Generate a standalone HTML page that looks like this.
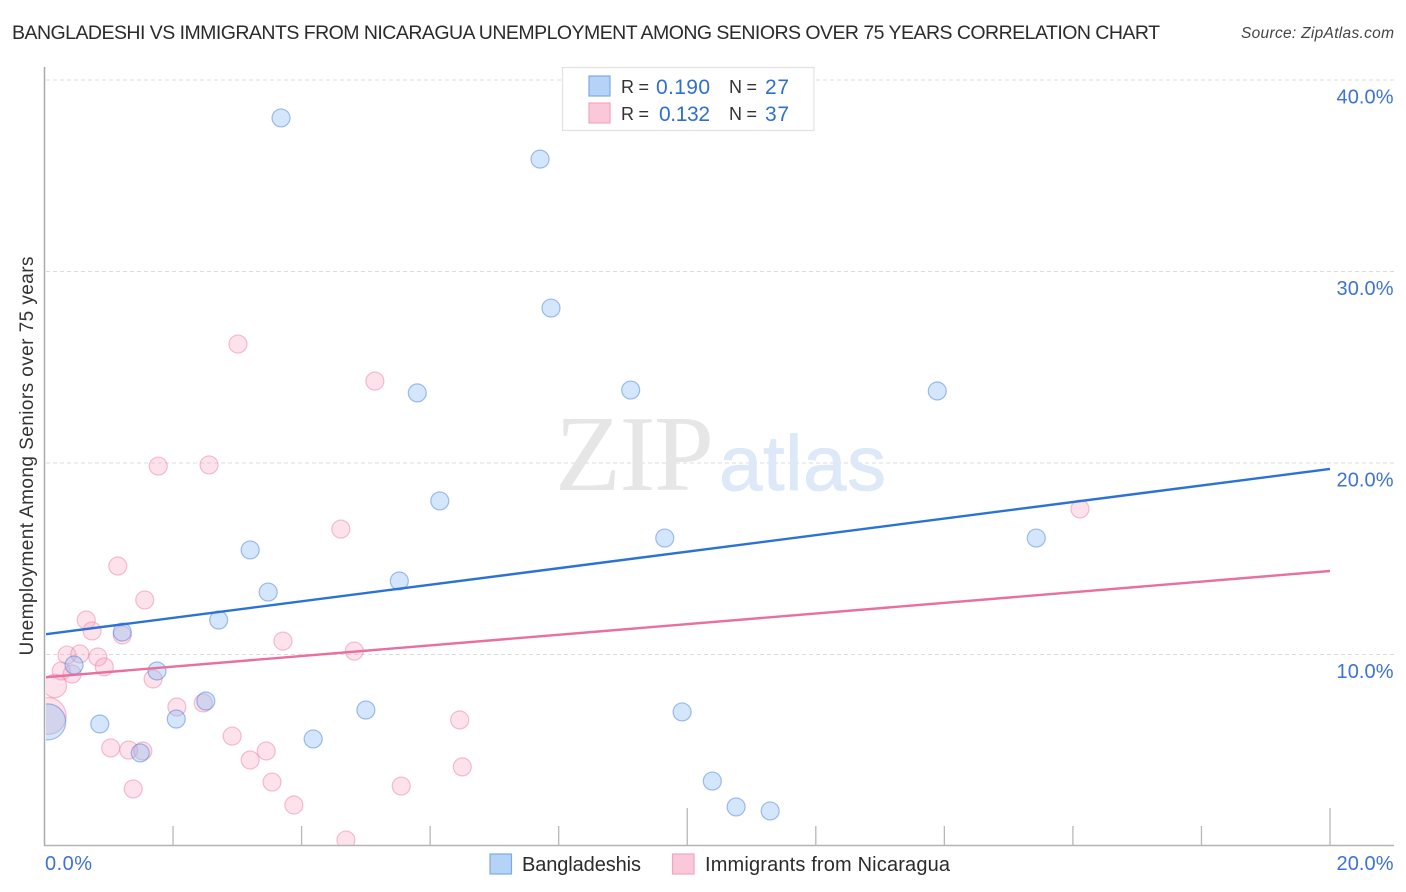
<!DOCTYPE html>
<html lang="en">
<head>
<meta charset="utf-8">
<title>Bangladeshi vs Immigrants from Nicaragua Correlation Chart</title>
<style>
  html, body { margin: 0; padding: 0; background: #fff; }
  #chart { display: block; width: 1406px; height: 892px; font-family: "Liberation Sans", sans-serif; }
</style>
</head>
<body>
<svg id="chart" xmlns="http://www.w3.org/2000/svg" width="1406" height="892" viewBox="0 0 1406 892">
  <defs>
    <clipPath id="plot-clip"><rect x="46" y="60" width="1348" height="785"></rect></clipPath>
  </defs>

  <text x="12" y="39" font-size="19.5" fill="#2b2b2b" textLength="1148">BANGLADESHI VS IMMIGRANTS FROM NICARAGUA UNEMPLOYMENT AMONG SENIORS OVER 75 YEARS CORRELATION CHART</text>
  <text x="1241" y="38" font-size="15.5" font-style="italic" fill="#444" textLength="153">Source: ZipAtlas.com</text>

  <g id="gridlines"></g>

  <g>
    <text x="555" y="490" font-family="'Liberation Serif', serif" font-size="108" fill="#e6e6e6" textLength="159">ZIP</text>
    <text x="719" y="490" font-size="78" fill="#dde8f8" stroke="#dde8f8" stroke-width="0.8" textLength="167">atlas</text>
  </g>

  <g id="points-layer" clip-path="url(#plot-clip)"></g>
  <g id="trend-layer" clip-path="url(#plot-clip)"></g>

  <g id="axes">
    <line x1="44.5" y1="67" x2="44.5" y2="846" stroke="#aaa" stroke-width="1.5"></line>
    <line x1="44" y1="845.5" x2="1394" y2="845.5" stroke="#b4b4b4" stroke-width="1.5"></line>
  </g>
  <g id="x-ticks"></g>
  <g id="tick-labels"></g>

  <text transform="translate(33,655.5) rotate(-90)" x="0" y="0" font-size="19" fill="#333" textLength="399">Unemployment Among Seniors over 75 years</text>

  <g>
    <rect x="562.5" y="67.5" width="251.5" height="63" fill="#fff" stroke="#e2e2e2" stroke-width="1.2"></rect>
    <rect x="589" y="76" width="21" height="20" fill="#b5d2f7" stroke="#7fa9e6" stroke-width="1.2"></rect>
    <rect x="589" y="103" width="21" height="20" fill="#fbc8d9" stroke="#f2a5bf" stroke-width="1.2"></rect>
    <text x="621" y="93" font-size="18" fill="#333" textLength="28">R =</text>
    <text x="656" y="94" font-size="21" fill="#2f6fd0" textLength="54">0.190</text>
    <text x="729" y="93" font-size="18" fill="#333" textLength="28">N =</text>
    <text x="765" y="94" font-size="21" fill="#2f6fd0" textLength="24">27</text>
    <text x="621" y="120" font-size="18" fill="#333" textLength="28">R =</text>
    <text x="659" y="121" font-size="21" fill="#2f6fd0" textLength="51">0.132</text>
    <text x="729" y="120" font-size="18" fill="#333" textLength="28">N =</text>
    <text x="765" y="121" font-size="21" fill="#2f6fd0" textLength="24">37</text>
  </g>

  <g>
    <rect x="490" y="854" width="21.5" height="20" fill="#b5d2f7" stroke="#7fa9e6" stroke-width="1.2"></rect>
    <text x="522" y="871" font-size="20" fill="#2b2b2b" textLength="119">Bangladeshis</text>
    <rect x="672.5" y="854" width="21.5" height="20" fill="#fbc8d9" stroke="#f2a5bf" stroke-width="1.2"></rect>
    <text x="705" y="871" font-size="20" fill="#2b2b2b" textLength="245">Immigrants from Nicaragua</text>
  </g>
</svg>

<script>
// ---- chart data (percent values) ----
const bangladeshisX = [3.68,7.71,7.88,9.12,13.89,5.80,6.15,9.65,15.43,3.20,3.48,5.52,2.71,1.21,1.75,0.46,2.51,2.05,0.86,5.00,9.92,4.18,1.49,10.39,10.76,11.29,0.05];
const bangladeshisY = [38.02,35.87,28.09,23.81,23.76,23.66,18.02,16.08,16.08,15.46,13.26,13.84,11.80,11.17,9.14,9.45,7.57,6.63,6.37,7.10,7.00,5.59,4.86,3.39,2.04,1.83,6.48];
const bangladeshisWeight = [1,1,1,1,1,1,1,1,1,1,1,1,1,1,1,1,1,1,1,1,1,1,1,1,1,1,4];

const nicaraguaX = [3.01,5.14,1.77,2.56,4.61,16.11,1.14,1.56,0.65,0.74,1.21,3.71,4.82,0.35,0.55,0.83,0.93,0.26,0.43,1.69,2.06,2.47,6.46,2.92,1.03,1.31,1.53,3.45,3.20,6.50,3.54,5.55,1.38,3.88,4.69,0.16,0.05];
const nicaraguaY = [26.21,24.28,19.84,19.90,16.55,17.60,14.62,12.85,11.80,11.23,11.02,10.70,10.18,9.97,10.03,9.87,9.35,9.14,8.98,8.72,7.26,7.47,6.58,5.74,5.12,5.01,4.96,4.96,4.49,4.13,3.34,3.13,2.98,2.14,0.31,8.36,6.79];
const nicaraguaWeight = [1,1,1,1,1,1,1,1,1,1,1,1,1,1,1,1,1,1,1,1,1,1,1,1,1,1,1,1,1,1,1,1,1,1,1,1.7,4.2];

const trendX = [0, 20];
const bangladeshisTrend = [11.05, 19.69];
const nicaraguaTrend = [8.81, 14.36];

const yTicks = [10, 20, 30, 40];
const yTickLabels = ["10.0%", "20.0%", "30.0%", "40.0%"];
const xTicks = [2, 4, 6, 8, 10, 12, 14, 16, 18, 20];
const xMajorTicks = [10, 20];
const xEndTicks = [0, 20];
const xEndLabels = ["0.0%", "20.0%"];

// ---- axis functions ----
const SVG_NS = "http://www.w3.org/2000/svg";
function xScale(v) { return 44.5 + v * 64.275; }
function yScale(v) { return 846 - v * 19.15; }
function radius(w) { return 9 * Math.sqrt(w); }
function make(tag, attrs, parent) {
  const el = document.createElementNS(SVG_NS, tag);
  for (const k in attrs) el.setAttribute(k, attrs[k]);
  parent.appendChild(el);
  return el;
}

// gridlines and y tick labels
const gridGroup = document.getElementById("gridlines");
const labelGroup = document.getElementById("tick-labels");
yTicks.forEach(function (t, i) {
  const line = make("line", { x1: 46, x2: 1394, y1: yScale(t), y2: yScale(t), stroke: "#dcdcdc", "stroke-width": 1, "stroke-dasharray": "4 3" }, gridGroup);
  
  
  const label = make("text", { x: 1393.5, y: yScale(t) + 23.5, "text-anchor": "end", "font-size": 20, fill: "#3d72d6", textLength: 57 }, labelGroup);
  
  
  label.textContent = yTickLabels[i];
});

// x ticks and labels
const tickGroup = document.getElementById("x-ticks");
xTicks.forEach(function (t) {
  const major = xMajorTicks.indexOf(t) >= 0;
  const tick = make("line", { x1: xScale(t), x2: xScale(t), y1: major ? 808 : 826, y2: 846, stroke: "#b8b8b8", "stroke-width": 1.3 }, tickGroup);
  
  
});
xEndTicks.forEach(function (t, i) {
  const label = make("text", { x: t === 0 ? xScale(t) + 0.5 : 1393.5, y: 870, "text-anchor": t === 0 ? "start" : "end", "font-size": 20, fill: "#3d72d6", textLength: t === 0 ? 47 : 57 }, labelGroup);
  
  
  label.textContent = xEndLabels[i];
});

// points
const pointsLayer = document.getElementById("points-layer");
function drawPoints(xs, ys, ws, fill, stroke, name) {
  xs.forEach(function (x, i) {
    const c = make("circle", { cx: xScale(x), cy: yScale(ys[i]), r: radius(ws[i]), fill: fill, stroke: stroke, "stroke-width": 1.2 }, pointsLayer);
    
    
  });
}
drawPoints(nicaraguaX, nicaraguaY, nicaraguaWeight, "rgba(247,160,190,0.3)", "rgba(236,130,165,0.5)", "point-nicaragua");
drawPoints(bangladeshisX, bangladeshisY, bangladeshisWeight, "rgba(140,190,245,0.38)", "rgba(60,115,215,0.45)", "point-bangladeshis");

// trend lines
const trendLayer = document.getElementById("trend-layer");
const blueTrend = make("line", { x1: xScale(trendX[0]), y1: yScale(bangladeshisTrend[0]), x2: xScale(trendX[1]), y2: yScale(bangladeshisTrend[1]), stroke: "#2a72d6", "stroke-width": 2.4 }, trendLayer);


const pinkTrend = make("line", { x1: xScale(trendX[0]), y1: yScale(nicaraguaTrend[0]), x2: xScale(trendX[1]), y2: yScale(nicaraguaTrend[1]), stroke: "#e8709f", "stroke-width": 2.4 }, trendLayer);


</script>
</body>
</html>
